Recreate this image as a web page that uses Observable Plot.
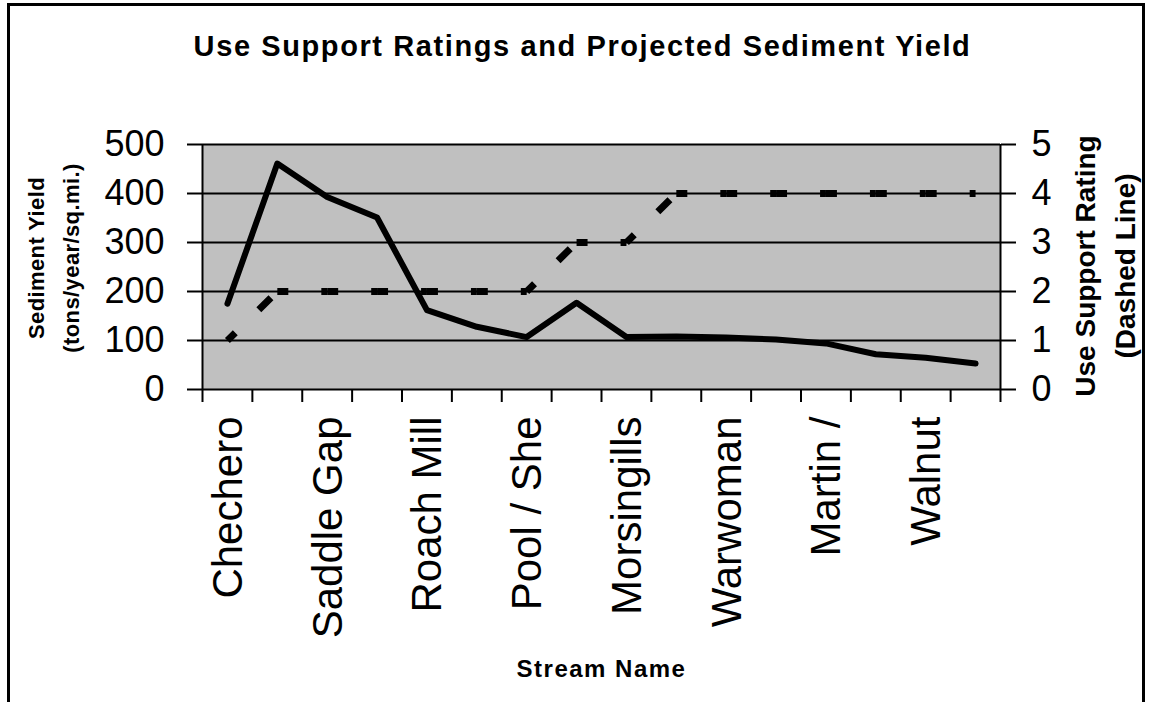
<!DOCTYPE html>
<html><head><meta charset="utf-8">
<script src="https://cdn.jsdelivr.net/npm/d3@7"></script>
<script src="https://cdn.jsdelivr.net/npm/@observablehq/plot@0.6"></script>
<style>
html,body{margin:0;padding:0;background:#fff;}
#wrap{position:relative;width:1150px;height:702px;overflow:hidden;background:#fff;}
#border{position:absolute;left:7px;top:3px;width:1138px;height:720px;border:3px solid #000;border-bottom:none;box-sizing:border-box;pointer-events:none;}
</style></head><body>
<div id="wrap"><div id="chart"></div><div id="border"></div></div>
<script>
// ---- data ----
const streamLabels = ["Chechero", "", "Saddle Gap", "", "Roach Mill", "", "Pool / She", "", "Morsingills", "", "Warwoman", "", "Martin /", "", "Walnut", ""];
const sedimentYield = [175, 461, 393, 351, 162, 128, 107, 177, 107, 108, 106, 102, 94, 72, 65, 53];
const useSupportRating = [1, 2, 2, 2, 2, 2, 2, 3, 3, 4, 4, 4, 4, 4, 4, 4];
const yieldTicks = [0, 100, 200, 300, 400, 500];
const ratingTicks = [0, 1, 2, 3, 4, 5];
const chartTitle = "Use Support Ratings and Projected Sediment Yield";
const leftTitle = ["Sediment Yield", "(tons/year/sq.mi.)"];
const rightTitle = ["Use Support Rating", "(Dashed Line)"];
const xTitle = "Stream Name";

// rating axis shares the yield scale: 1 rating unit = 100 yield units
const ratingToYield = 100;

const points = sedimentYield.map((v, i) => ({i, yield: v, rating: useSupportRating[i], label: streamLabels[i]}));
const ratingSegments = d3.pairs(points).map(([a, b]) => ({x1: a.i + 0.5, y1: a.rating * ratingToYield, x2: b.i + 0.5, y2: b.rating * ratingToYield}));
const labelled = points.filter(d => d.label !== "");
const boundaries = d3.range(0, streamLabels.length + 1);

const font = "'Liberation Sans', Arial, Helvetica, sans-serif";
const T = {textAnchor: "middle", lineAnchor: "middle", fontWeight: "bold"};

const chart = Plot.plot({
  width: 1150,
  height: 702,
  marginLeft: 202,
  marginRight: 150,
  marginTop: 144,
  marginBottom: 313,
  style: {fontFamily: font, color: "black", background: "transparent", overflow: "visible"},
  x: {domain: [0, streamLabels.length], axis: null},
  y: {domain: [0, 500], axis: null},
  marks: [
    Plot.frame({fill: "#c0c0c0", stroke: null}),
    Plot.ruleY(yieldTicks, {stroke: "black", strokeWidth: 2}),
    Plot.ruleX([0, streamLabels.length], {y1: 0, y2: 500, stroke: "black", strokeWidth: 2}),
    Plot.axisY({anchor: "left", ticks: yieldTicks, tickSize: 15, tickPadding: 23, fontSize: 36, strokeWidth: 2, label: null}),
    Plot.axisY({anchor: "right", ticks: ratingTicks.map(r => r * ratingToYield), tickFormat: d => d / ratingToYield, tickSize: 15, tickPadding: 16, fontSize: 36, strokeWidth: 2, label: null}),
    Plot.axisX({ticks: boundaries, tickFormat: () => "", tickSize: 13, strokeWidth: 2, label: null}),
    Plot.text(labelled, {x: d => d.i + 0.5, text: "label", frameAnchor: "bottom", rotate: -90, textAnchor: "end", lineAnchor: "middle", dy: 27, dx: 1, fontSize: 42}),
    Plot.link(ratingSegments, {x1: "x1", y1: "y1", x2: "x2", y2: "y2", stroke: "black", strokeWidth: 7, strokeDasharray: "17,33", strokeDashoffset: 6, strokeLinecap: "butt"}),
    Plot.line(points, {x: d => d.i + 0.5, y: "yield", stroke: "black", strokeWidth: 6, strokeLinejoin: "round", strokeLinecap: "round"}),
    Plot.text([chartTitle], {...T, frameAnchor: "top", dx: -19, dy: -98, fontSize: 29}),
    Plot.text([leftTitle[0]], {...T, frameAnchor: "left", rotate: -90, dx: -166, dy: -9, fontSize: 22}),
    Plot.text([leftTitle[1]], {...T, frameAnchor: "left", rotate: -90, dx: -131, dy: -9, fontSize: 22}),
    Plot.text([rightTitle[0]], {...T, frameAnchor: "right", rotate: -90, dx: 86, dy: -1, fontSize: 28}),
    Plot.text([rightTitle[1]], {...T, frameAnchor: "right", rotate: -90, dx: 126, dy: -1, fontSize: 28}),
    Plot.text([xTitle], {...T, frameAnchor: "bottom", dy: 280, fontSize: 24})
  ]
});

// widen the letter spacing of the bold titles as in the reference
const spacing = new Map([[chartTitle, 1.6], [xTitle, 1.5], [leftTitle[0], 0.4], [leftTitle[1], 0.4]]);
chart.querySelectorAll("text").forEach(t => {
  const s = spacing.get(t.textContent);
  if (s) t.style.letterSpacing = s + "px";
});
document.getElementById("chart").appendChild(chart);
</script>
</body></html>
